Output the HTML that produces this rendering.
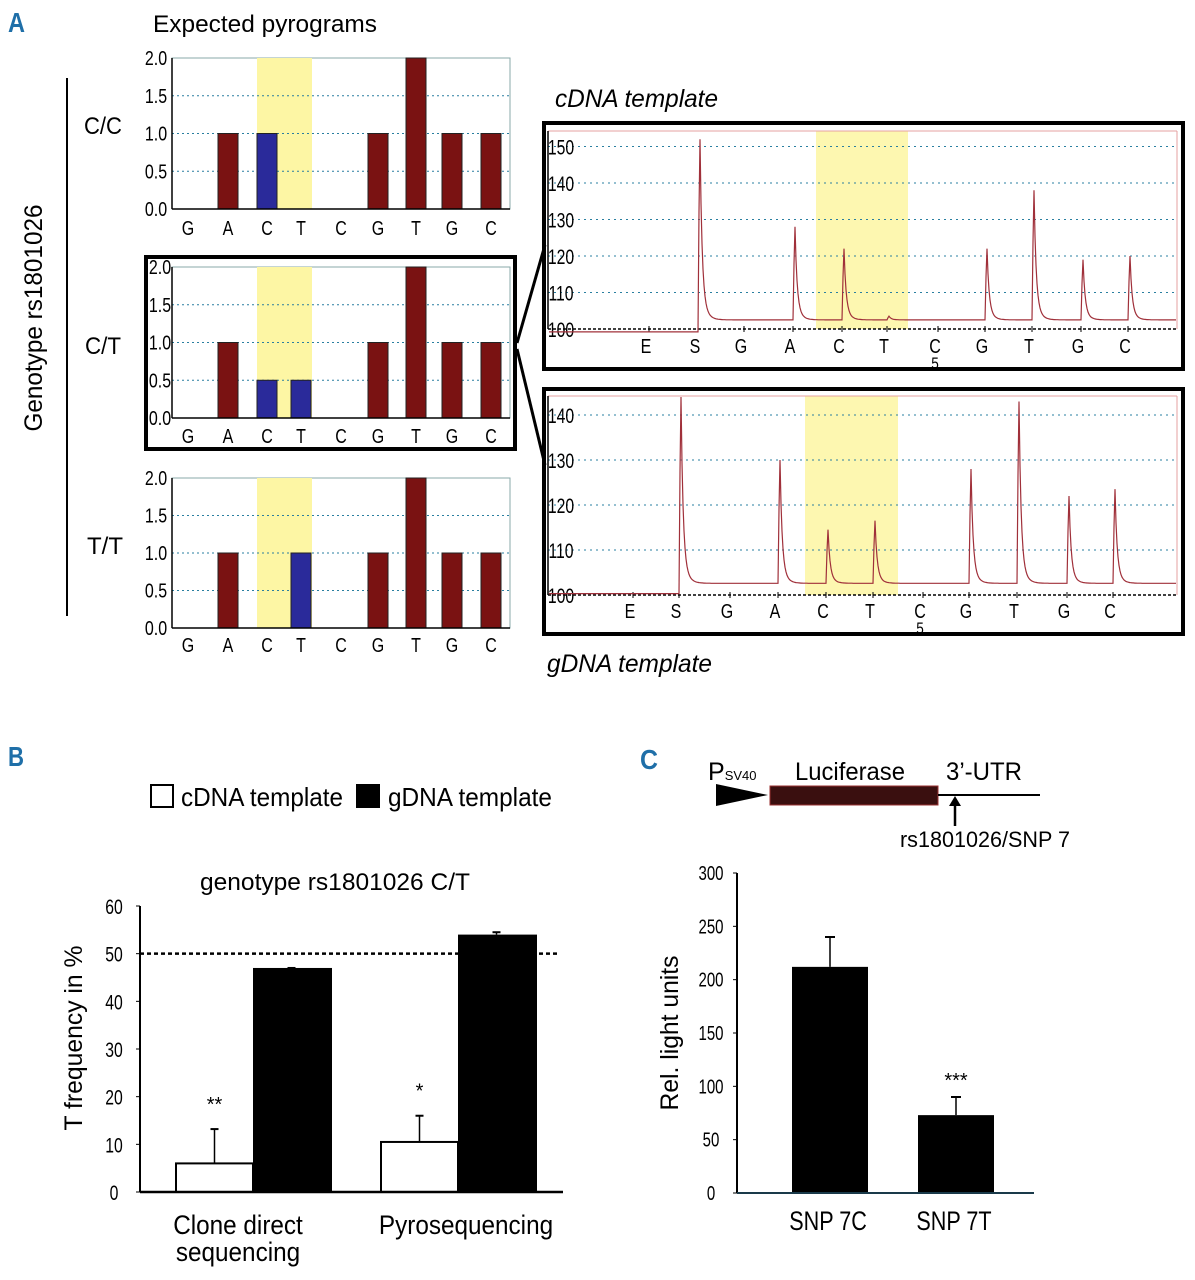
<!DOCTYPE html>
<html><head><meta charset="utf-8">
<style>
html,body{margin:0;padding:0;background:#fff;}
svg{display:block;font-family:"Liberation Sans Narrow","Liberation Sans",sans-serif;}
</style></head>
<body>
<svg id="fig" width="1195" height="1280" viewBox="0 0 1195 1280" xmlns="http://www.w3.org/2000/svg">
<g id="static">
<text x="8" y="32" font-size="28" font-weight="bold" fill="#1f6fa8" textLength="17" lengthAdjust="spacingAndGlyphs">A</text>
<text x="8" y="766" font-size="28" font-weight="bold" fill="#1f6fa8" textLength="16" lengthAdjust="spacingAndGlyphs">B</text>
<text x="640" y="769" font-size="28" font-weight="bold" fill="#1f6fa8" textLength="18" lengthAdjust="spacingAndGlyphs">C</text>
<text x="153" y="32" font-size="24" textLength="224" lengthAdjust="spacingAndGlyphs">Expected pyrograms</text>
<line x1="67" y1="78" x2="67" y2="616" stroke="#000" stroke-width="2"/>
<text transform="translate(42,318) rotate(-90)" text-anchor="middle" font-size="25" textLength="227" lengthAdjust="spacingAndGlyphs">Genotype rs1801026</text>
<text x="103" y="134" text-anchor="middle" font-size="24" textLength="38" lengthAdjust="spacingAndGlyphs">C/C</text>
<text x="103" y="354" text-anchor="middle" font-size="24" textLength="36" lengthAdjust="spacingAndGlyphs">C/T</text>
<text x="105" y="554" text-anchor="middle" font-size="24" textLength="36" lengthAdjust="spacingAndGlyphs">T/T</text>
<rect x="146" y="257" width="369" height="192" fill="none" stroke="#000" stroke-width="4"/>
<line x1="517" y1="343" x2="545" y2="245" stroke="#000" stroke-width="3"/>
<line x1="517" y1="349" x2="545" y2="465" stroke="#000" stroke-width="3"/>
<text x="555" y="107" font-size="25" font-style="italic" textLength="163" lengthAdjust="spacingAndGlyphs">cDNA template</text>
<text x="547" y="672" font-size="25" font-style="italic" textLength="165" lengthAdjust="spacingAndGlyphs">gDNA template</text>
<rect x="544" y="123" width="639" height="246" fill="none" stroke="#000" stroke-width="4"/>
<rect x="544" y="389" width="639" height="245" fill="none" stroke="#000" stroke-width="4"/>

<rect x="151" y="785" width="22" height="22" fill="#fff" stroke="#000" stroke-width="2"/>
<text x="181" y="806" font-size="26" textLength="162" lengthAdjust="spacingAndGlyphs">cDNA template</text>
<rect x="356" y="784" width="24" height="24" fill="#000"/>
<text x="388" y="806" font-size="26" textLength="164" lengthAdjust="spacingAndGlyphs">gDNA template</text>
<text x="335" y="890" text-anchor="middle" font-size="24" textLength="270" lengthAdjust="spacingAndGlyphs">genotype rs1801026 C/T</text>
<text transform="translate(82,1038) rotate(-90)" text-anchor="middle" font-size="25" textLength="185" lengthAdjust="spacingAndGlyphs">T frequency in %</text>

<text x="708" y="780" font-size="25">P<tspan font-size="13">SV40</tspan></text>
<polygon points="716,784 768,795 716,806" fill="#000"/>
<rect x="770" y="786" width="168" height="19" fill="#3a0f0f" stroke="#9a3030" stroke-width="1"/>
<line x1="938" y1="795" x2="1040" y2="795" stroke="#000" stroke-width="2"/>
<line x1="955" y1="826" x2="955" y2="804" stroke="#000" stroke-width="2.5"/>
<polygon points="949,806 955,796 961,806" fill="#000"/>
<text x="850" y="780" text-anchor="middle" font-size="25" textLength="110" lengthAdjust="spacingAndGlyphs">Luciferase</text>
<text x="984" y="780" text-anchor="middle" font-size="25" textLength="76" lengthAdjust="spacingAndGlyphs">3’-UTR</text>
<text x="985" y="847" text-anchor="middle" font-size="22" textLength="170" lengthAdjust="spacingAndGlyphs">rs1801026/SNP 7</text>
<text transform="translate(678,1033) rotate(-90)" text-anchor="middle" font-size="25" textLength="155" lengthAdjust="spacingAndGlyphs">Rel. light units</text>
</g>
<g id="dyn"></g>
</svg>
<script>
const flowLetters = ["G","A","C","T","C","G","T","G","C"];
const pyroCC = [0,1,1,0,0,1,2,1,1];
const pyroCT = [0,1,0.5,0.5,0,1,2,1,1];
const pyroTT = [0,1,0,1,0,1,2,1,1];
const pyroTicks = ["0.0","0.5","1.0","1.5","2.0"];

const traceLetters = ["E","S","G","A","C","T","C","G","T","G","C"];
const cdnaPeaks = [0,152,0,128,122,103.5,0,122,138,119,120];
const gdnaPeaks = [0,144,0,130,114.5,116.5,0,128,143,122,123.5];
const cdnaTicks = [100,110,120,130,140,150];
const gdnaTicks = [100,110,120,130,140];

const bCategories = ["Clone direct|sequencing","Pyrosequencing"];
const bCdna = [6,10.5];
const bCdnaErr = [13.2,16];
const bGdna = [47,54];
const bGdnaErr = [47,54.5];
const bStars = ["**","*"];
const bTicks = [0,10,20,30,40,50,60];

const cCategories = ["SNP 7C","SNP 7T"];
const cValues = [212,73];
const cErr = [240,90];
const cStars = ["","***"];
const cTicks = [0,50,100,150,200,250,300];

const NS="http://www.w3.org/2000/svg";
const dyn=document.getElementById('dyn');
function mk(tag,attrs,parent){const e=document.createElementNS(NS,tag);for(const k in attrs)e.setAttribute(k,attrs[k]);(parent||dyn).appendChild(e);return e;}
function txt(x,y,s,size,anchor,parent,sx){const t=mk('text',{x:0,y:0,'font-size':size,'text-anchor':anchor||'middle',transform:'translate('+x+','+y+') scale('+(sx||0.8)+',1)'},parent);t.textContent=s;return t;}

const letterX=[188,228,267,301,341,378,416,452,491];
function pyrogram(vals,y0,y2,ly,name,framed){
  const g=mk('g',{});
  
  
  const Y=v=>y0-(v/2)*(y0-y2);
  const xl=172,xr=510;
  mk('rect',{x:xl,y:y2,width:xr-xl,height:y0-y2,fill:'#fff',stroke:'#8aa',"stroke-width":1},g);
  mk('rect',{x:257,y:y2,width:55,height:y0-y2,fill:'#fdf6a4'},g);
  [0.5,1,1.5].forEach(v=>{mk('line',{x1:xl,y1:Y(v),x2:xr,y2:Y(v),stroke:'#2a7fa0','stroke-dasharray':'2,3','stroke-width':1},g);});
  vals.forEach((v,i)=>{
    if(v<=0)return;
    const blue=(i===2||i===3);
    const b=mk('rect',{x:letterX[i]-10,y:Y(v),width:20,height:y0-Y(v),fill:blue?'#2a2a9a':'#7a1212',stroke:'#222','stroke-width':1},g);
    
    
  });
  mk('line',{x1:xl,y1:y0,x2:xr,y2:y0,stroke:'#000','stroke-width':1.5},g);
  mk('line',{x1:xl,y1:y2,x2:xl,y2:y0,stroke:'#000','stroke-width':1.5},g);
  pyroTicks.forEach((s,i)=>{txt(framed?160:156,Y(i*0.5)+7,s,20,'middle',g);});
  flowLetters.forEach((l,i)=>{txt(letterX[i],ly,l,20,'middle',g);});
}
pyrogram(pyroCC,209,58,235,'pyrogram-cc',false);
pyrogram(pyroCT,418,267,443,'pyrogram-ct',true);
pyrogram(pyroTT,628,478,652,'pyrogram-tt',false);

function trace(peaks,letX,y100,yPer10,ticks,yTop,yBot,yel,ly,name,preBase,postBase){
  const g=mk('g',{});
  
  
  const Y=v=>y100-(v-100)/10*yPer10;
  const xl=548,xr=1177;
  mk('rect',{x:yel[0],y:yTop,width:yel[1]-yel[0],height:yBot-yTop,fill:'#fdf7b0'},g);
  ticks.forEach(t=>{if(t>100)mk('line',{x1:xl,y1:Y(t),x2:xr,y2:Y(t),stroke:'#2a7fa0','stroke-dasharray':'2,4','stroke-width':1},g);});
  mk('line',{x1:xl,y1:yTop,x2:xr,y2:yTop,stroke:'#e6a0a0','stroke-width':1},g);
  mk('line',{x1:xr,y1:yTop,x2:xr,y2:y100,stroke:'#e6a0a0','stroke-width':1},g);
  mk('line',{x1:xl,y1:y100,x2:xr,y2:y100,stroke:'#000','stroke-width':1.5,'stroke-dasharray':'3,2'},g);
  mk('line',{x1:xl,y1:yTop,x2:xl,y2:y100,stroke:'#000','stroke-width':1.5},g);
  ticks.forEach(t=>{txt(561,Y(t)+8,String(t),21,'middle',g,0.75);});
  letX.forEach((x,i)=>{mk('line',{x1:x+3,y1:y100-3,x2:x+3,y2:y100+3,stroke:'#000'},g);txt(x,ly,traceLetters[i],20,'middle',g);});
  txt(letX[6],ly+16,'5',17,'middle',g);
  const sx=letX[1]+4;
  let d='';
  for(let x=xl+1;x<=xr-1;x++){
    let v=x<sx?preBase:postBase;
    peaks.forEach((h,i)=>{
      if(h<=100)return;
      const px=letX[i]+5;
      const dx=x-px;
      const amp=h-postBase;
      if(dx>=-1&&dx<0)v+=amp*0.6;
      else if(dx>=0)v+=amp*Math.exp(-dx/2)*0.8+amp*0.2*Math.exp(-dx/4.5);
    });
    d+=(d?'L':'M')+x+','+Y(v).toFixed(1);
  }
  const p=mk('path',{d:d,fill:'none',stroke:'#a0303a','stroke-width':1.2},g);
  
  
}
trace(cdnaPeaks,[646,695,741,790,839,884,935,982,1029,1078,1125],329,36.5,cdnaTicks,131,329,[816,908],353,'cdna-pyrogram',99.2,102.5);
trace(gdnaPeaks,[630,676,727,775,823,870,920,966,1014,1064,1110],595,45,gdnaTicks,396,595,[805,898],618,'gdna-pyrogram',100.3,102.6);

(function(){
  const g=mk('g',{});
  
  
  const y0=1192,y60=906;
  const Y=v=>y0-v/60*(y0-y60);
  const groupX=[176,381];
  const bw=77;
  bCategories.forEach((c,i)=>{
    const x=groupX[i];
    mk('line',{x1:x+bw/2,y1:Y(bCdna[i]),x2:x+bw/2,y2:Y(bCdnaErr[i]),stroke:'#000','stroke-width':1.5},g);
    mk('line',{x1:x+bw/2-4,y1:Y(bCdnaErr[i]),x2:x+bw/2+4,y2:Y(bCdnaErr[i]),stroke:'#000','stroke-width':2},g);
    const w=mk('rect',{x:x,y:Y(bCdna[i]),width:bw,height:y0-Y(bCdna[i]),fill:'#fff',stroke:'#000','stroke-width':2},g);
    
    
    mk('line',{x1:x+bw+bw/2,y1:Y(bGdna[i]),x2:x+bw+bw/2,y2:Y(bGdnaErr[i]),stroke:'#000','stroke-width':1.5},g);
    mk('line',{x1:x+bw+bw/2-4,y1:Y(bGdnaErr[i]),x2:x+bw+bw/2+4,y2:Y(bGdnaErr[i]),stroke:'#000','stroke-width':2},g);
    const k=mk('rect',{x:x+bw,y:Y(bGdna[i]),width:bw+2,height:y0-Y(bGdna[i]),fill:'#000'},g);
    
    
    txt(x+bw/2,Y(bCdnaErr[i])-18,bStars[i],20,'middle',g,1);
    const parts=c.split('|');
    parts.forEach((p,j)=>{txt(i===0?238:466,1234+j*27,p,27,'middle',g,0.9);});
  });
  mk('line',{x1:140,y1:Y(50),x2:557,y2:Y(50),stroke:'#000','stroke-width':2.5,'stroke-dasharray':'4,3'},g);
  mk('line',{x1:140,y1:y60,x2:140,y2:y0,stroke:'#000','stroke-width':2},g);
  mk('line',{x1:140,y1:y0,x2:563,y2:y0,stroke:'#000','stroke-width':2.5},g);
  bTicks.forEach(t=>{mk('line',{x1:136,y1:Y(t),x2:140,y2:Y(t),stroke:'#000'},g);txt(114,Y(t)+8,String(t),21,'middle',g,0.75);});
})();

(function(){
  const g=mk('g',{});
  
  
  const y0=1193,y300=873;
  const Y=v=>y0-v/300*(y0-y300);
  const bx=[792,918];const bw=76;
  cCategories.forEach((c,i)=>{
    const cx=bx[i]+bw/2;
    mk('line',{x1:cx,y1:Y(cValues[i]),x2:cx,y2:Y(cErr[i]),stroke:'#000','stroke-width':1.5},g);
    mk('line',{x1:cx-5,y1:Y(cErr[i]),x2:cx+5,y2:Y(cErr[i]),stroke:'#000','stroke-width':2},g);
    const r=mk('rect',{x:bx[i],y:Y(cValues[i]),width:bw,height:y0-Y(cValues[i]),fill:'#000'},g);
    
    
    if(cStars[i])txt(cx,Y(cErr[i])-10,cStars[i],20,'middle',g,1);
    txt(cx-2,1230,c,27,'middle',g,0.8);
  });
  mk('line',{x1:737,y1:y300,x2:737,y2:y0,stroke:'#000','stroke-width':2},g);
  mk('line',{x1:737,y1:y0,x2:1034,y2:y0,stroke:'#1a3a4a','stroke-width':2},g);
  cTicks.forEach(t=>{mk('line',{x1:733,y1:Y(t),x2:737,y2:Y(t),stroke:'#000'},g);txt(711,Y(t)+7,String(t),20,'middle',g,0.75);});
})();
</script>
</body></html>
